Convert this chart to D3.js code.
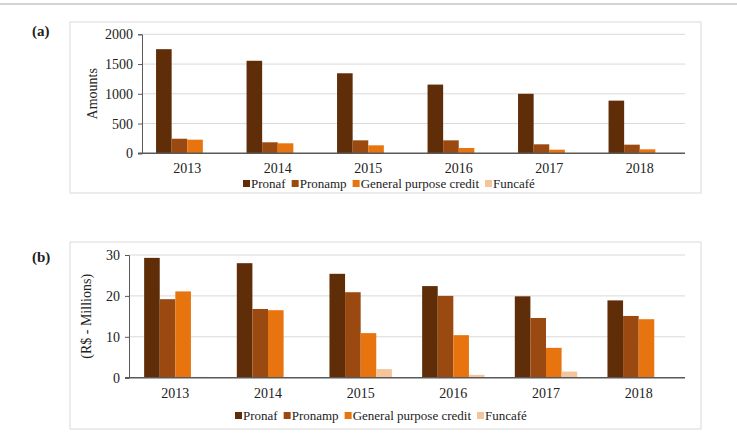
<!DOCTYPE html>
<html>
<head>
<meta charset="utf-8">
<script src="https://cdn.jsdelivr.net/npm/d3@7"></script>
<style>
  body { margin: 0; background: #fff; }
</style>
</head>
<body>
<svg id="chart" width="737" height="434"></svg>
<script>
// data
const years = ["2013", "2014", "2015", "2016", "2017", "2018"];
const seriesNames = ["Pronaf", "Pronamp", "General purpose credit", "Funcafé"];
const seriesColors = ["#5f2e09", "#9a4a10", "#e8740f", "#f4c49a"];
// (a) number of contracts
const amountPronaf = [1750, 1555, 1345, 1155, 1000, 885];
const amountPronamp = [245, 185, 218, 218, 151, 145];
const amountGeneral = [229, 168, 134, 89, 61, 67];
const amountFuncafe = [0, 0, 0, 0, 0, 0];
const amountTicks = [0, 500, 1000, 1500, 2000];
// (b) R$ millions
const valuePronaf = [29.3, 28.0, 25.4, 22.4, 19.9, 18.9];
const valuePronamp = [19.2, 16.8, 20.9, 20.0, 14.6, 15.1];
const valueGeneral = [21.1, 16.5, 10.9, 10.4, 7.3, 14.3];
const valueFuncafe = [0.2, 0, 2.1, 0.7, 1.5, 0];
const valueTicks = [0, 10, 20, 30];

const serif = "Liberation Serif";
const svg = d3.select("#chart").attr("font-family", serif);
const gridColor = "#d9d9d9";
const textColor = "#222";
const barWidth = 15.6;

// top rule
svg.append("line")
    .attr("x1", 0).attr("x2", 737).attr("y1", 4).attr("y2", 4)
    .attr("stroke", "#d4d4d4").attr("stroke-width", 2);

const drawPanel = (opt) => {
    const g = svg.append("g").attr("font-family", serif);
    // frame
    g.append("rect")
        .attr("x", opt.box[0]).attr("y", opt.box[1])
        .attr("width", opt.box[2]).attr("height", opt.box[3])
        .attr("fill", "none").attr("stroke", gridColor).attr("stroke-width", 1);
    // panel tag
    g.append("text")
        .attr("x", 32).attr("y", opt.tagY)
        .attr("font-size", 15).attr("font-weight", "bold").attr("fill", textColor)
        .text(opt.tag);

    const x0 = d3.scaleBand().domain(years).range([opt.left, opt.right]).padding(0);
    const groupW = barWidth * seriesNames.length;
    const x1 = d3.scaleBand().domain(seriesNames)
        .range([(x0.bandwidth() - groupW) / 2, (x0.bandwidth() + groupW) / 2]);
    const y = d3.scaleLinear().domain([0, opt.max]).range([opt.bottom, opt.top]);

    // gridlines
    g.append("g").selectAll("line")
        .data(opt.ticks.filter(t => t > 0))
        .join("line")
        .attr("x1", opt.left).attr("x2", opt.right)
        .attr("y1", d => y(d)).attr("y2", d => y(d))
        .attr("stroke", gridColor).attr("stroke-width", 1);

    // y axis
    const yAxis = g.append("g")
        .attr("transform", `translate(${opt.left},0)`)
        .call(d3.axisLeft(y).tickValues(opt.ticks).tickSize(4).tickPadding(5).tickFormat(d3.format("d")));
    yAxis.attr("font-family", serif);
    yAxis.select(".domain").attr("stroke", "#595959");
    yAxis.selectAll(".tick line").attr("stroke", "#595959");
    yAxis.selectAll("text").attr("font-size", 14).attr("fill", textColor);

    // bars
    const rows = years.map((yr, i) => ({ year: yr, vals: opt.series.map(s => s[i]) }));
    g.append("g").selectAll("g")
        .data(rows)
        .join("g")
        .attr("transform", d => `translate(${x0(d.year)},0)`)
        .selectAll("rect")
        .data(d => d.vals.map((v, k) => ({ name: seriesNames[k], v: v, k: k })))
        .join("rect")
        .attr("x", d => x1(d.name))
        .attr("width", x1.bandwidth())
        .attr("y", d => y(d.v))
        .attr("height", d => opt.bottom - y(d.v))
        .attr("fill", d => seriesColors[d.k]);

    // x axis
    const xAxis = g.append("g")
        .attr("transform", `translate(0,${opt.bottom})`)
        .call(d3.axisBottom(x0).tickSize(0).tickPadding(10));
    xAxis.attr("font-family", serif);
    xAxis.select(".domain").attr("stroke", "#595959").attr("stroke-width", 1.5)
        .attr("d", `M${opt.left - 4},0H${opt.right}`);
    xAxis.selectAll("text").attr("font-size", 14).attr("fill", textColor);

    // y title
    g.append("text")
        .attr("transform", `translate(${opt.titleX},${(opt.top + opt.bottom) / 2}) rotate(-90)`)
        .attr("text-anchor", "middle")
        .attr("font-size", 14).attr("fill", textColor)
        .text(opt.yTitle);

    // legend: swatch, label, then next item
    const legend = g.append("g").attr("transform", `translate(${opt.legendX},${opt.legendY})`);
    let lx = 0;
    seriesNames.forEach((name, k) => {
        legend.append("rect")
            .attr("x", lx).attr("y", -8).attr("width", 7).attr("height", 7)
            .attr("fill", seriesColors[k]);
        const t = legend.append("text")
            .attr("x", lx + 8).attr("y", 0)
            .attr("font-size", 13).attr("fill", textColor)
            .text(name);
        lx += 8 + t.node().getComputedTextLength() + 6;
    });
};

drawPanel({
    tag: "(a)", tagY: 36,
    box: [70, 22, 631, 171],
    left: 142, right: 685, top: 34.3, bottom: 153.3,
    max: 2000, ticks: amountTicks,
    series: [amountPronaf, amountPronamp, amountGeneral, amountFuncafe],
    yTitle: "Amounts", titleX: 97,
    legendX: 243, legendY: 188
});

drawPanel({
    tag: "(b)", tagY: 262,
    box: [70, 242, 631, 187],
    left: 129, right: 685, top: 255, bottom: 377.7,
    max: 30, ticks: valueTicks,
    series: [valuePronaf, valuePronamp, valueGeneral, valueFuncafe],
    yTitle: "(R$ - Millions)", titleX: 91,
    legendX: 235, legendY: 420
});
</script>
</body>
</html>
